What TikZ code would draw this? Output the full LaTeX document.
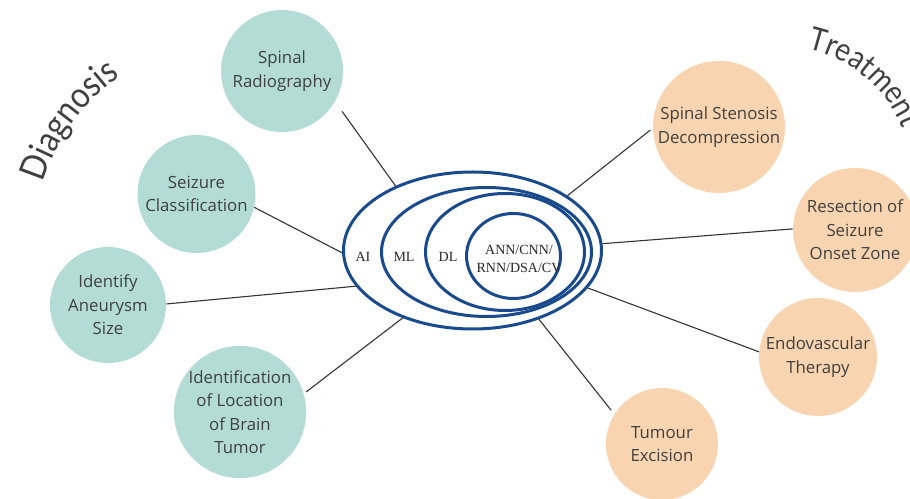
\documentclass[tikz,border=0pt]{standalone}
\usepackage{fontspec}
\usepackage{tikz}
\usetikzlibrary{shapes,decorations.text}
\newfontfamily\opensans{Open Sans}
\newfontfamily\lato[FakeStretch=0.88]{Lato}
\newfontfamily\serifset{Liberation Serif}
\definecolor{diagteal}{HTML}{B4DCD6}
\definecolor{treatsand}{HTML}{F8D5B0}
\definecolor{setblue}{HTML}{1A4A8E}
\definecolor{inkgray}{HTML}{404040}

\begin{document}
\begin{tikzpicture}[x=1pt,y=1pt,-,semithick]
  \tikzstyle{every node}=[inner sep=0pt]
  \tikzstyle{diag}=[circle,fill=diagteal,draw=none,text=inkgray,align=center,
                    font=\opensans\fontsize{16.8}{23.5}\selectfont]
  \tikzstyle{treat}=[diag,fill=treatsand]
  \tikzstyle{set}=[ellipse,draw=setblue,line width=3pt]
  \tikzstyle{setlabel}=[align=center,text=black!85,font=\serifset\fontsize{14}{18}\selectfont]
  \tikzstyle{link}=[draw=black!80,line width=1.1pt]

  \useasboundingbox (0,0) rectangle (910,498);

  \node[diag,minimum size=122] (sr) at (282,427)   {Spinal\\Radiography};
  \node[diag,minimum size=118] (sc) at (196.5,304) {Seizure\\Classification};
  \node[diag,minimum size=116] (ia) at (108,193)   {Identify\\Aneurysm\\Size};
  \node[diag,minimum size=124] (ib) at (240,86)    {Identification\\of Location\\of Brain\\Tumor};

  \node[treat,minimum size=132] (ss) at (719,371) {Spinal Stenosis\\Decompression};
  \node[treat,minimum size=124] (rs) at (855,268) {Resection of\\Seizure\\Onset Zone};
  \node[treat,minimum size=118] (et) at (818,141) {Endovascular\\Therapy};
  \node[treat,minimum size=112] (te) at (662,54)  {Tumour\\Excision};

  \node[set,minimum width=258,minimum height=157] (ai)   at (472.5,247.5) {};
  \node[set,minimum width=210,minimum height=129] (ml)   at (486.5,246)   {};
  \node[set,minimum width=159,minimum height=117] (dl)   at (505,246)     {};
  \node[set,minimum width=94,minimum height=85]   (core) at (513.5,242)   {};

  \path (sr.-30) edge[link,shorten <=12pt] (ai.140)
        (sc.-13) edge[link]                (ai.181.5)
        (ia.1)   edge[link]                (ai.197.7)
        (ib.16)  edge[link,shorten <=3pt]  (ai.224.6)
        (ss.181) edge[link,shorten <=3pt]  (ai.30.4)
        (rs.179) edge[link]                (ai.3.6)
        (et.175) edge[link]                (ai.-18.7)
        (te.148) edge[link,shorten <=5pt]  (ai.-46.6);

  \node[setlabel] (lblai)   at (363,241) {AI};
  \node[setlabel] (lblml)   at (404,241) {ML};
  \node[setlabel] (lbldl)   at (448,241) {DL};
  \node[setlabel] (lblcore) at (519,239) {ANN/CNN/\\RNN/DSA/CV};

  \coordinate (dgc) at (236,256);
  \coordinate (trc) at (779.8,320.2);
  \path[decorate,decoration={text along path,text color=inkgray,
        text={|\lato\fontsize{36}{36}\selectfont|Diagnosis}}]
    ([shift={(163:202)}]dgc) arc[start angle=163,end angle=95,radius=202];
  \path[decorate,decoration={text along path,text color=inkgray,
        text={|\lato\fontsize{32}{32}\selectfont|Treatment}}]
    ([shift={(78:132)}]trc) arc[start angle=78,end angle=-30,radius=132];
\end{tikzpicture}
\end{document}
